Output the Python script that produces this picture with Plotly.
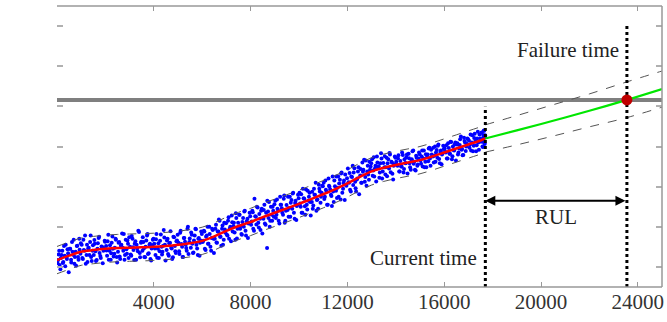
import plotly.graph_objects as go

# ---------------- data ----------------
obs_x = [
    20, 70, 110, 160, 220, 260, 320, 360, 410, 460,
    530, 580, 620, 680, 720, 770, 820, 870, 920, 970,
    1020, 1070, 1110, 1160, 1220, 1260, 1310, 1370, 1410, 1470,
    1520, 1560, 1610, 1670, 1720, 1760, 1810, 1860, 1920, 1970,
    2030, 2070, 2120, 2170, 2220, 2260, 2310, 2370, 2420, 2470,
    2520, 2570, 2610, 2660, 2720, 2760, 2810, 2870, 2910, 2960,
    3020, 3070, 3120, 3160, 3210, 3270, 3310, 3360, 3420, 3470,
    3530, 3570, 3610, 3660, 3720, 3760, 3820, 3860, 3910, 3960,
    4020, 4070, 4110, 4170, 4210, 4260, 4320, 4360, 4410, 4460,
    4530, 4570, 4620, 4670, 4720, 4760, 4810, 4870, 4910, 4960,
    5020, 5060, 5110, 5170, 5210, 5260, 5320, 5360, 5410, 5470,
    5530, 5570, 5620, 5660, 5720, 5760, 5820, 5860, 5910, 5960,
    6020, 6070, 6110, 6160, 6220, 6260, 6310, 6370, 6410, 6470,
    6520, 6570, 6610, 6670, 6720, 6760, 6820, 6860, 6910, 6960,
    7020, 7070, 7110, 7160, 7220, 7260, 7310, 7370, 7410, 7460,
    7530, 7570, 7620, 7660, 7720, 7760, 7810, 7870, 7910, 7960,
    8020, 8070, 8110, 8160, 8220, 8260, 8320, 8360, 8410, 8460,
    8530, 8570, 8620, 8680, 8720, 8760, 8810, 8870, 8910, 8960,
    9020, 9070, 9110, 9160, 9220, 9260, 9310, 9370, 9410, 9460,
    9530, 9570, 9620, 9660, 9720, 9760, 9820, 9860, 9910, 9960,
    10020, 10070, 10110, 10160, 10220, 10260, 10320, 10360, 10410, 10460,
    10530, 10570, 10620, 10660, 10720, 10760, 10820, 10860, 10910, 10960,
    11020, 11070, 11110, 11160, 11220, 11260, 11320, 11360, 11410, 11460,
    11530, 11570, 11620, 11660, 11720, 11760, 11820, 11860, 11910, 11960,
    12020, 12070, 12110, 12160, 12220, 12260, 12320, 12360, 12410, 12460,
    12530, 12570, 12620, 12660, 12720, 12760, 12820, 12860, 12910, 12960,
    13020, 13070, 13110, 13160, 13220, 13260, 13320, 13360, 13410, 13460,
    13530, 13570, 13620, 13660, 13720, 13760, 13820, 13860, 13910, 13960,
    14020, 14070, 14110, 14160, 14220, 14260, 14320, 14360, 14410, 14460,
    14530, 14570, 14620, 14660, 14720, 14760, 14820, 14860, 14910, 14960,
    15020, 15070, 15110, 15160, 15220, 15260, 15320, 15360, 15410, 15460,
    15530, 15570, 15620, 15660, 15720, 15760, 15820, 15860, 15910, 15960,
    16020, 16070, 16110, 16160, 16220, 16260, 16320, 16360, 16410, 16460,
    16530, 16570, 16620, 16660, 16720, 16760, 16820, 16860, 16910, 16960,
    17020, 17070, 17110, 17160, 17220, 17260, 17320, 17360, 17410, 17460,
    17520, 17550, 17580, 17610, 17640, 17660, 17690,
]
obs_y = [
    0.10, 0.31, 0.05, 0.22, 0.40, 0.12, 0.28, 0.55, 0.20, 0.34,
    0.45, 0.18, 0.62, 0.30, 0.08, 0.38, 0.52, 0.25, 0.70, 0.33,
    0.55, 0.20, 0.42, 0.78, 0.30, 0.12, 0.48, 0.62, 0.25, 0.40,
    0.30, 0.58, 0.15, 0.45, 0.72, 0.35, 0.22, 0.50, 0.40, 0.65,
    0.52, 0.28, 0.80, 0.40, 0.18, 0.60, 0.45, 0.33, 0.70, 0.25,
    0.38, 0.62, 0.20, 0.55, 0.48, 0.82, 0.30, 0.44, 0.66, 0.22,
    0.50, 0.28, 0.70, 0.42, 0.58, 0.18, 0.46, 0.90, 0.35, 0.60,
    0.40, 0.62, 0.25, 0.50, 0.78, 0.32, 0.55, 0.20, 0.46, 0.68,
    0.58, 0.30, 0.82, 0.45, 0.22, 0.65, 0.50, 0.38, 0.92, 0.55,
    0.42, 0.70, 0.28, 0.60, 0.48, 0.20, 0.75, 0.52, 0.35, 0.66,
    0.60, 0.32, 0.90, 0.50, 0.25, 0.72, 0.55, 0.40, 1.00, 0.62,
    0.48, 0.80, 0.35, 0.66, 0.95, 0.55, 0.30, 0.72, 0.60, 0.88,
    0.62, 0.90, 0.45, 0.75, 1.00, 0.58, 0.82, 0.40, 0.95, 0.70,
    0.70, 1.05, 0.60, 0.88, 1.15, 0.75, 0.95, 0.55, 1.10, 0.85,
    0.80, 1.15, 0.70, 1.00, 1.28, 0.88, 1.10, 0.68, 1.22, 0.95,
    1.30, 0.95, 0.82, 1.12, 1.00, 1.40, 0.78, 1.20, 1.08, 1.35,
    1.05, 1.40, 0.95, 1.70, 1.25, 1.50, 1.10, 1.32, 0.92, 1.45,
    1.20, 1.55, 1.05, 0.47, 1.38, 1.62, 1.15, 1.30, 1.50, 1.25,
    1.65, 1.30, 1.45, 1.15, 1.75, 1.55, 1.35, 1.70, 1.10, 1.40,
    1.42, 1.25, 1.75, 1.60, 1.45, 1.85, 1.20, 1.65, 1.52, 1.80,
    1.85, 1.50, 1.35, 1.95, 1.70, 1.30, 1.55, 1.90, 1.75, 1.62,
    1.62, 1.45, 1.95, 1.80, 1.40, 1.68, 2.05, 1.88, 1.75, 2.02,
    2.10, 1.75, 1.92, 1.55, 2.20, 2.00, 1.80, 1.52, 1.88, 2.15,
    1.90, 1.72, 2.25, 2.08, 1.68, 2.35, 1.95, 2.15, 2.30, 2.02,
    2.45, 2.10, 1.92, 2.25, 2.52, 2.35, 2.12, 1.88, 2.20, 2.48,
    2.28, 2.10, 2.60, 2.42, 2.12, 2.65, 2.38, 2.30, 2.62, 2.50,
    2.68, 2.40, 2.25, 2.52, 2.75, 2.46, 2.22, 2.58, 2.70, 2.38,
    2.48, 2.30, 2.72, 2.58, 2.45, 2.80, 2.62, 2.32, 2.52, 2.75,
    2.62, 2.52, 2.78, 2.38, 2.50, 2.85, 2.35, 2.68, 2.58, 2.80,
    2.82, 2.58, 2.42, 2.68, 2.90, 2.62, 2.40, 2.72, 2.55, 2.85,
    2.65, 2.75, 2.50, 2.90, 2.62, 2.48, 2.80, 2.95, 2.70, 2.92,
    2.75, 2.60, 3.00, 2.85, 2.72, 3.05, 2.58, 2.90, 2.80, 3.02,
    2.95, 2.85, 2.70, 3.08, 2.82, 3.12, 2.68, 3.00, 2.90, 3.10,
    3.05, 2.80, 2.95, 3.18, 2.92, 2.78, 3.22, 3.10, 3.00, 3.20,
    3.15, 3.05, 2.90, 3.28, 3.02, 3.32, 2.88, 3.20, 3.10, 3.30,
    3.12, 3.35, 3.00, 3.22, 3.40, 3.08, 3.28,
]

obs2_x = [
    45, 90, 140, 190, 240, 290, 340, 390, 435, 485,
    545, 590, 640, 690, 740, 790, 840, 890, 935, 985,
    1045, 1090, 1140, 1190, 1240, 1290, 1340, 1390, 1435, 1485,
    1545, 1590, 1640, 1690, 1740, 1790, 1840, 1890, 1935, 1985,
    2045, 2090, 2140, 2190, 2240, 2290, 2340, 2390, 2435, 2485,
    2545, 2590, 2640, 2690, 2740, 2790, 2840, 2890, 2935, 2985,
    3045, 3090, 3140, 3190, 3240, 3290, 3340, 3390, 3435, 3485,
    3545, 3590, 3640, 3690, 3740, 3790, 3840, 3890, 3935, 3985,
    4045, 4090, 4140, 4190, 4240, 4290, 4340, 4390, 4435, 4485,
    4545, 4590, 4640, 4690, 4740, 4790, 4840, 4890, 4935, 4985,
    5045, 5090, 5140, 5190, 5240, 5290, 5340, 5390, 5435, 5485,
    5545, 5590, 5640, 5690, 5740, 5790, 5840, 5890, 5935, 5985,
    6045, 6090, 6140, 6190, 6240, 6290, 6340, 6390, 6435, 6485,
    6545, 6590, 6640, 6690, 6740, 6790, 6840, 6890, 6935, 6985,
    7045, 7090, 7140, 7190, 7240, 7290, 7340, 7390, 7435, 7485,
    7545, 7590, 7640, 7690, 7740, 7790, 7840, 7890, 7935, 7985,
    8045, 8090, 8140, 8190, 8240, 8290, 8340, 8390, 8435, 8485,
    8545, 8590, 8640, 8690, 8740, 8790, 8840, 8890, 8935, 8985,
    9045, 9090, 9140, 9190, 9240, 9290, 9340, 9390, 9435, 9485,
    9545, 9590, 9640, 9690, 9740, 9790, 9840, 9890, 9935, 9985,
    10045, 10090, 10140, 10190, 10240, 10290, 10340, 10390, 10435, 10485,
    10545, 10590, 10640, 10690, 10740, 10790, 10840, 10890, 10935, 10985,
    11045, 11090, 11140, 11190, 11240, 11290, 11340, 11390, 11435, 11485,
    11545, 11590, 11640, 11690, 11740, 11790, 11840, 11890, 11935, 11985,
    12045, 12090, 12140, 12190, 12240, 12290, 12340, 12390, 12435, 12485,
    12545, 12590, 12640, 12690, 12740, 12790, 12840, 12890, 12935, 12985,
    13045, 13090, 13140, 13190, 13240, 13290, 13340, 13390, 13435, 13485,
    13545, 13590, 13640, 13690, 13740, 13790, 13840, 13890, 13935, 13985,
    14045, 14090, 14140, 14190, 14240, 14290, 14340, 14390, 14435, 14485,
    14545, 14590, 14640, 14690, 14740, 14790, 14840, 14890, 14935, 14985,
    15045, 15090, 15140, 15190, 15240, 15290, 15340, 15390, 15435, 15485,
    15545, 15590, 15640, 15690, 15740, 15790, 15840, 15890, 15935, 15985,
    16045, 16090, 16140, 16190, 16240, 16290, 16340, 16390, 16435, 16485,
    16545, 16590, 16640, 16690, 16740, 16790, 16840, 16890, 16935, 16985,
    17045, 17090, 17140, 17190, 17240, 17290, 17340, 17390, 17435, 17485,
    17545, 17575, 17600, 17625, 17650, 17675, 17695,
]
obs2_y = [
    0.17, 0.40, -0.06, 0.30, 0.10, 0.52, 0.02, 0.24, 0.44, -0.13,
    0.45, 0.11, 0.38, 0.68, 0.25, 0.03, 0.53, 0.18, 0.43, 0.59,
    0.22, 0.68, 0.40, 0.08, 0.55, 0.46, 0.30, 0.78, 0.15, 0.54,
    0.67, 0.39, 0.17, 0.59, 0.75, 0.27, 0.51, 0.09, 0.47, 0.63,
    0.41, 0.64, 0.18, 0.54, 0.34, 0.76, 0.26, 0.48, 0.68, 0.11,
    0.60, 0.26, 0.53, 0.83, 0.40, 0.18, 0.68, 0.33, 0.58, 0.74,
    0.31, 0.77, 0.49, 0.17, 0.64, 0.55, 0.39, 0.87, 0.24, 0.63,
    0.74, 0.46, 0.24, 0.66, 0.82, 0.34, 0.58, 0.16, 0.54, 0.70,
    0.46, 0.69, 0.23, 0.59, 0.39, 0.81, 0.31, 0.53, 0.73, 0.16,
    0.66, 0.32, 0.59, 0.89, 0.46, 0.24, 0.74, 0.39, 0.64, 0.80,
    0.39, 0.85, 0.57, 0.25, 0.72, 0.63, 0.47, 0.95, 0.32, 0.71,
    0.86, 0.58, 0.36, 0.78, 0.94, 0.46, 0.70, 0.28, 0.66, 0.82,
    0.65, 0.88, 0.42, 0.78, 0.58, 1.00, 0.50, 0.72, 0.92, 0.35,
    0.95, 0.61, 0.88, 1.18, 0.75, 0.53, 1.03, 0.68, 0.93, 1.09,
    0.78, 1.24, 0.96, 0.64, 1.11, 1.02, 0.86, 1.34, 0.71, 1.10,
    1.30, 1.02, 0.80, 1.22, 1.38, 0.90, 1.14, 0.72, 1.10, 1.26,
    1.13, 1.36, 0.90, 1.26, 1.06, 1.48, 0.98, 1.20, 1.40, 0.83,
    1.42, 1.08, 1.35, 1.65, 1.22, 1.00, 1.50, 1.15, 1.40, 1.56,
    1.22, 1.68, 1.40, 1.08, 1.55, 1.46, 1.30, 1.78, 1.15, 1.54,
    1.75, 1.47, 1.25, 1.67, 1.83, 1.35, 1.59, 1.17, 1.55, 1.71,
    1.58, 1.81, 1.35, 1.71, 1.51, 1.93, 1.43, 1.65, 1.85, 1.28,
    1.87, 1.53, 1.80, 2.10, 1.67, 1.45, 1.95, 1.60, 1.85, 2.01,
    1.69, 2.15, 1.87, 1.55, 2.02, 1.93, 1.77, 2.25, 1.62, 2.01,
    2.25, 1.97, 1.75, 2.17, 2.33, 1.85, 2.09, 1.67, 2.05, 2.21,
    2.11, 2.34, 1.88, 2.24, 2.04, 2.46, 1.96, 2.18, 2.38, 1.81,
    2.44, 2.10, 2.37, 2.67, 2.24, 2.02, 2.52, 2.17, 2.42, 2.58,
    2.27, 2.73, 2.45, 2.13, 2.60, 2.51, 2.35, 2.83, 2.20, 2.59,
    2.76, 2.48, 2.26, 2.68, 2.84, 2.36, 2.60, 2.18, 2.56, 2.72,
    2.54, 2.71, 2.38, 2.64, 2.50, 2.79, 2.44, 2.59, 2.73, 2.33,
    2.71, 2.48, 2.67, 2.88, 2.57, 2.42, 2.77, 2.52, 2.70, 2.81,
    2.57, 2.90, 2.70, 2.48, 2.81, 2.74, 2.63, 2.97, 2.52, 2.80,
    2.97, 2.77, 2.62, 2.91, 3.02, 2.69, 2.86, 2.56, 2.83, 2.94,
    2.86, 3.03, 2.70, 2.96, 2.82, 3.11, 2.76, 2.91, 3.05, 2.65,
    3.08, 2.85, 3.04, 3.25, 2.94, 2.79, 3.14, 2.89, 3.07, 3.18,
    2.97, 3.30, 3.10, 2.88, 3.21, 3.14, 3.03, 3.37, 2.92, 3.20,
    3.34, 3.14, 2.99, 3.28, 3.39, 3.06, 3.23,
]

fit_x = [0, 500, 1000, 1500, 2000, 2500, 3000, 3500, 4000, 4500, 5000, 5500,
         6000, 6500, 7000, 7500, 8000, 8500, 9000, 9500, 10000, 10500, 11000,
         11500, 12000, 12500, 13000, 13500, 14000, 14500, 15000, 15500, 16000,
         16500, 17000, 17500, 17700]
fit_y = [0.17, 0.28, 0.38, 0.42, 0.45, 0.47, 0.48, 0.49, 0.50, 0.52, 0.55, 0.59,
         0.65, 0.76, 0.90, 1.02, 1.12, 1.24, 1.35, 1.46, 1.57, 1.69, 1.81,
         1.94, 2.08, 2.24, 2.38, 2.47, 2.54, 2.60, 2.66, 2.75, 2.85,
         2.95, 3.05, 3.15, 3.20]
fit_upper = [0.51, 0.62, 0.72, 0.76, 0.79, 0.81, 0.82, 0.83, 0.84, 0.86, 0.89, 0.93,
             0.99, 1.10, 1.24, 1.36, 1.46, 1.58, 1.69, 1.80, 1.91, 2.03, 2.15,
             2.28, 2.42, 2.58, 2.72, 2.81, 2.88, 2.94, 3.00, 3.09, 3.19,
             3.29, 3.39, 3.49, 3.54]
fit_lower = [-0.17, -0.06, 0.04, 0.08, 0.11, 0.13, 0.14, 0.15, 0.16, 0.18, 0.21, 0.25,
             0.31, 0.42, 0.56, 0.68, 0.78, 0.90, 1.01, 1.12, 1.23, 1.35, 1.47,
             1.60, 1.74, 1.90, 2.04, 2.13, 2.20, 2.26, 2.32, 2.41, 2.51,
             2.61, 2.71, 2.81, 2.86]

pred_x = [17700, 19000, 20500, 22000, 23550, 25000]
pred_y = [3.20, 3.40, 3.64, 3.89, 4.16, 4.43]
pred_upper = [3.54, 3.77, 4.04, 4.31, 4.61, 4.88]
pred_lower = [2.86, 3.04, 3.26, 3.49, 3.72, 3.98]

threshold = 4.16
current_time = 17700
failure_time = 23550
x_ticks = [4000, 8000, 12000, 16000, 20000, 24000]
y_ticks = [0, 1, 2, 3, 4, 5, 6]

FONT = "Liberation Serif"
FRAME = "#999999"

fig = go.Figure()

# threshold line
fig.add_trace(go.Scatter(x=[0, 25000], y=[threshold, threshold], mode="lines",
                         line=dict(color="#7f7f7f", width=4), hoverinfo="skip"))

# observations
obs_marker = dict(color="#0000ff", size=4, line=dict(width=0))
fig.add_trace(go.Scatter(x=obs_x, y=obs_y, mode="markers", marker=obs_marker))
fig.add_trace(go.Scatter(x=obs2_x, y=obs2_y, mode="markers", marker=obs_marker))

# confidence bounds
dash_style = dict(color="#555555", width=1, dash="dash")
fig.add_trace(go.Scatter(x=fit_x, y=fit_upper, mode="lines", line=dict(**dash_style, shape="spline")))
fig.add_trace(go.Scatter(x=fit_x, y=fit_lower, mode="lines", line=dict(**dash_style, shape="spline")))
fig.add_trace(go.Scatter(x=pred_x, y=pred_upper, mode="lines", line=dict(**dash_style, shape="spline")))
fig.add_trace(go.Scatter(x=pred_x, y=pred_lower, mode="lines", line=dict(**dash_style, shape="spline")))

# fitted and predicted curves
fig.add_trace(go.Scatter(x=fit_x, y=fit_y, mode="lines",
                         line=dict(color="#ff0000", width=2.5, shape="spline")))
fig.add_trace(go.Scatter(x=pred_x, y=pred_y, mode="lines",
                         line=dict(color="#00e600", width=2.2, shape="spline")))

# vertical dotted lines
fig.add_trace(go.Scatter(x=[current_time, current_time], y=[-0.5, 3.99], mode="lines",
                         line=dict(color="black", width=3, dash="dot")))
fig.add_trace(go.Scatter(x=[failure_time, failure_time], y=[-0.5, 6.02], mode="lines",
                         line=dict(color="black", width=3, dash="dot")))

# failure point
fig.add_trace(go.Scatter(x=[failure_time], y=[threshold], mode="markers",
                         marker=dict(color="#c00000", size=11)))

annotations = [
    dict(x=current_time, y=1.65, ax=failure_time, ay=1.65, xref="x", yref="y",
         axref="x", ayref="y", text="", showarrow=True, arrowhead=2, arrowside="end+start",
         arrowsize=1, arrowwidth=2, arrowcolor="black"),
    dict(x=(current_time + failure_time) / 2, y=1.25, xref="x", yref="y", text="RUL",
         showarrow=False, font=dict(family=FONT, size=21, color="#222")),
    dict(x=current_time, y=0.22, xref="x", yref="y", text="Current time",
         xanchor="right", xshift=-6, showarrow=False, font=dict(family=FONT, size=21, color="#222")),
    dict(x=failure_time, y=5.41, xref="x", yref="y", text="Failure time",
         xanchor="right", xshift=-6, showarrow=False, font=dict(family=FONT, size=21, color="#222")),
]

# frame drawn on three sides only (left side is cropped away in the original)
frame = dict(color=FRAME, width=1.5)
shapes = [
    dict(type="line", xref="paper", yref="paper", x0=1, x1=1, y0=0, y1=1, line=frame, layer="above"),
    dict(type="line", xref="paper", yref="paper", x0=0, x1=1, y0=1, y1=1, line=frame, layer="above"),
    dict(type="line", xref="paper", yref="paper", x0=0, x1=1, y0=0, y1=0, line=frame, layer="above"),
]

fig.update_layout(
    width=667, height=322,
    margin=dict(l=57, r=3, t=6, b=35),
    paper_bgcolor="white", plot_bgcolor="white",
    showlegend=False,
    annotations=annotations,
    shapes=shapes,
    xaxis=dict(range=[0, 25000], tickvals=x_ticks, ticktext=[str(v) for v in x_ticks],
               ticks="inside", ticklen=5, tickwidth=1.2, tickcolor=FRAME,
               showline=False, mirror="ticks",
               showgrid=False, zeroline=False,
               tickfont=dict(family=FONT, size=21, color="#333")),
    yaxis=dict(range=[-0.5, 6.5], tickvals=y_ticks, ticks="inside", ticklen=6,
               tickwidth=2, tickcolor="#b0b0b0", showticklabels=False,
               showline=False, mirror="ticks", showgrid=False, zeroline=False),
)

fig.write_html("out.html")
